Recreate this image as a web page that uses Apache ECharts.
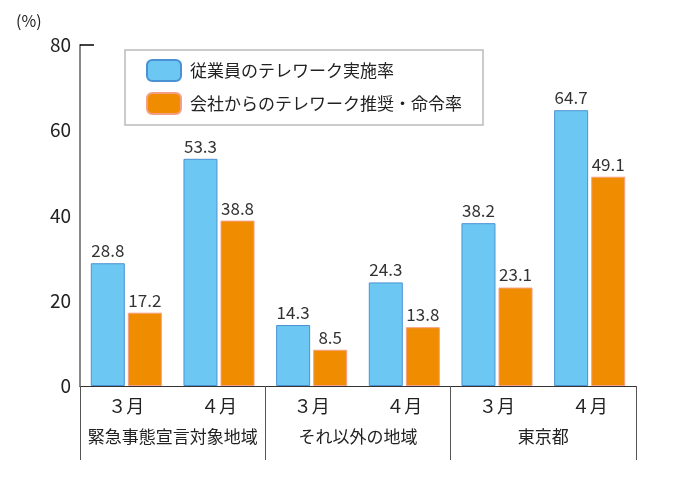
<!DOCTYPE html>
<html><head><meta charset="utf-8">
<script src="https://cdn.jsdelivr.net/npm/echarts@6/dist/echarts.min.js"></script>
<style>html,body{margin:0;padding:0;background:#fff}#c{width:680px;height:480px}</style>
</head><body><div id="c"></div>
<script>
const months = ['３月','４月','３月','４月','３月','４月'];
const groups = ['緊急事態宣言対象地域','それ以外の地域','東京都'];
const seriesNames = ['従業員のテレワーク実施率','会社からのテレワーク推奨・命令率'];
const implRate = [28.8, 53.3, 14.3, 24.3, 38.2, 64.7];
const recRate = [17.2, 38.8, 8.5, 13.8, 23.1, 49.1];
const yTicks = [0, 20, 40, 60, 80];

const FONT = "'Noto Sans CJK JP', 'Noto Sans', sans-serif";
const chart = echarts.init(document.getElementById('c'));
chart.setOption({
  animation: false,
  textStyle: {fontFamily: FONT},
  title: {text: '(%)', left: 11, top: 8, textStyle: {fontSize: 16, fontWeight: 'normal', color: '#222', fontFamily: FONT}},
  legend: {
    orient: 'vertical', left: 125, top: 50,
    padding: [9, 21, 10, 21],
    itemWidth: 34, itemHeight: 21, itemGap: 10,
    borderColor: '#bbbbbb', borderWidth: 1.5,
    textStyle: {fontSize: 17, color: '#222', fontFamily: FONT, padding: [0, 0, 0, 4]},
    data: seriesNames
  },
  grid: {left: 80, right: 44, top: 45, bottom: 94},
  xAxis: [
    {type: 'category', data: months, position: 'bottom',
     axisLine: {lineStyle: {color: '#333', width: 1}},
     axisTick: {show: false},
     axisLabel: {fontSize: 18, color: '#222', margin: 11, fontFamily: FONT}},
    {type: 'category', data: groups, position: 'bottom',
     axisLine: {show: false},
     axisTick: {show: true, length: 74, interval: 0, lineStyle: {color: '#555', width: 1}},
     axisLabel: {fontSize: 17, color: '#222', margin: 42, interval: 0, fontFamily: FONT}}
  ],
  yAxis: {
    type: 'value', min: 0, max: 80, interval: 10,
    axisLine: {show: true, lineStyle: {color: '#888', width: 2}},
    axisTick: {show: true, inside: true, length: 14, customValues: [80], lineStyle: {color: '#000', width: 1.5}},
    axisLabel: {fontSize: 19, color: '#222', margin: 9, fontFamily: FONT,
      formatter: v => yTicks.indexOf(v) >= 0 ? String(v) : ''},
    splitLine: {show: true, showMaxLine: false, lineStyle: {color: '#cccccc', width: 1}}
  },
  series: [
    {name: seriesNames[0], type: 'bar', data: implRate, barWidth: 34, barGap: '9%',
     itemStyle: {color: '#6cc8f2', borderColor: '#4a92d4', borderWidth: 1},
     label: {show: true, position: 'top', distance: 4, fontSize: 17, color: '#333', fontFamily: FONT}},
    {name: seriesNames[1], type: 'bar', data: recRate, barWidth: 34,
     itemStyle: {color: '#f08c00', borderColor: '#f4a088', borderWidth: 1},
     label: {show: true, position: 'top', distance: 4, fontSize: 17, color: '#333', fontFamily: FONT}}
  ]
});
</script></body></html>
